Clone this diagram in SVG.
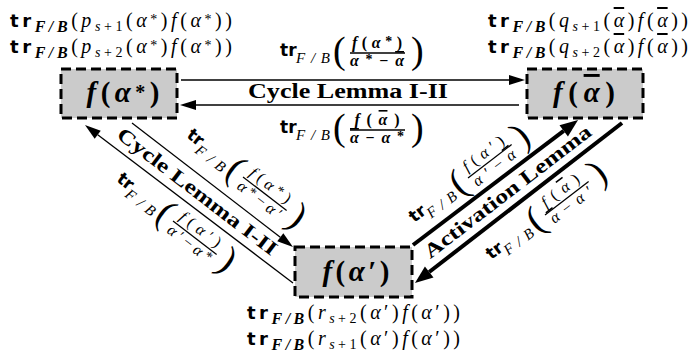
<svg xmlns="http://www.w3.org/2000/svg" width="691" height="352" viewBox="0 0 691 352">
<style>
text{font-family:"Liberation Serif",serif;fill:#000}
.tr{font-family:"DejaVu Sans",sans-serif;font-weight:bold}
.mi{font-style:italic}
.bi{font-style:italic;font-weight:bold}
.b{font-weight:bold}
.ov{text-decoration:overline}
.c{font-size:20px}
.sm{font-size:14px}
.node rect{fill:#cbcbcb;stroke:#000;stroke-width:3;stroke-dasharray:10 5}
.node text{font-size:29px;text-anchor:middle}
.lab{font-size:20px;font-weight:bold}
.thin{stroke:#000;stroke-width:1.3;fill:none}
.thick{stroke:#000;stroke-width:4;fill:none}
.bar{stroke:#000;stroke-width:1.3}
.bp{font-size:38px}
.fr{font-size:16px;text-anchor:middle}
</style>
<defs>
<marker id="ah" markerUnits="userSpaceOnUse" markerWidth="16" markerHeight="10" refX="0" refY="5" orient="auto" overflow="visible"><path d="M0,0 L16,5 L0,10 Z" fill="#000"/></marker>
<marker id="ahb" markerUnits="userSpaceOnUse" markerWidth="18" markerHeight="14" refX="0" refY="7" orient="auto" overflow="visible"><path d="M0,0 L18,7 L0,14 Z" fill="#000"/></marker>
</defs>

<g id="connectors">
<line class="thin" x1="181" y1="80" x2="509" y2="80" marker-end="url(#ah)"/>
<line class="thin" x1="519" y1="105" x2="196" y2="105" marker-end="url(#ah)"/>
<line class="thin" x1="132" y1="123" x2="280.3" y2="237.2" marker-end="url(#ah)"/>
<line class="thin" x1="293" y1="283" x2="97.7" y2="134.7" marker-end="url(#ah)"/>
<line class="thick" x1="413" y1="245" x2="563.7" y2="130.9" marker-end="url(#ahb)"/>
<line class="thick" x1="622" y1="123" x2="429.2" y2="272" marker-end="url(#ahb)"/>

<text class="lab" x="348" y="98" text-anchor="middle" textLength="200" lengthAdjust="spacingAndGlyphs">Cycle Lemma I-II</text>
<text class="lab" transform="translate(197,192) rotate(37.5)" x="0" y="6" text-anchor="middle" textLength="196" lengthAdjust="spacingAndGlyphs">Cycle Lemma I-II</text>
<text class="lab" transform="translate(508,192) rotate(-37.5)" x="0" y="6" text-anchor="middle" textLength="205" lengthAdjust="spacingAndGlyphs">Activation Lemma</text>

<!-- top horizontal label -->
<g transform="translate(350,53)">
<text class="tr" x="-70" y="3" font-size="17">tr</text>
<text class="mi" x="-54" y="10" font-size="15" textLength="34">F/B</text>
<text class="bp" x="-17" y="10">(</text>
<text class="fr b" x="27" y="-5" textLength="50"><tspan class="mi">f</tspan>(<tspan class="mi">α</tspan><tspan class="sm" baseline-shift="2">*</tspan>)</text>
<line class="bar" x1="0" y1="0" x2="55" y2="0"/>
<text class="fr b" x="27" y="13" textLength="54"><tspan class="mi">α</tspan><tspan class="sm" baseline-shift="2">*</tspan>−<tspan class="mi ov">α</tspan></text>
<text class="bp" x="61" y="10">)</text>
</g>
<!-- bottom horizontal label -->
<g transform="translate(350,130)">
<text class="tr" x="-70" y="3" font-size="17">tr</text>
<text class="mi" x="-54" y="10" font-size="15" textLength="34">F/B</text>
<text class="bp" x="-17" y="10">(</text>
<text class="fr b" x="27" y="-5" textLength="45"><tspan class="mi">f</tspan>(<tspan class="mi ov">α</tspan>)</text>
<line class="bar" x1="0" y1="0" x2="55" y2="0"/>
<text class="fr b" x="27" y="13" textLength="54"><tspan class="mi ov">α</tspan>−<tspan class="mi">α</tspan><tspan class="sm" baseline-shift="2">*</tspan></text>
<text class="bp" x="61" y="10">)</text>
</g>
<!-- left upper diagonal label -->
<g transform="translate(243,177) rotate(37.5)">
<text class="tr" x="-70" y="3" font-size="17">tr</text>
<text class="mi" x="-54" y="10" font-size="15" textLength="34">F/B</text>
<text class="bp" x="-17" y="10">(</text>
<text class="fr" x="27" y="-5" textLength="48"><tspan class="mi">f</tspan>(<tspan class="mi">α</tspan><tspan class="sm" baseline-shift="2">*</tspan>)</text>
<line class="bar" x1="0" y1="0" x2="55" y2="0"/>
<text class="fr" x="27" y="13" textLength="52"><tspan class="mi">α</tspan><tspan class="sm" baseline-shift="2">*</tspan>−<tspan class="mi">α</tspan>′</text>
<text class="bp" x="61" y="10">)</text>
</g>
<!-- left lower diagonal label -->
<g transform="translate(173,221) rotate(37.5)">
<text class="tr" x="-70" y="3" font-size="17">tr</text>
<text class="mi" x="-54" y="10" font-size="15" textLength="34">F/B</text>
<text class="bp" x="-17" y="10">(</text>
<text class="fr" x="27" y="-5" textLength="48"><tspan class="mi">f</tspan>(<tspan class="mi">α</tspan>′)</text>
<line class="bar" x1="0" y1="0" x2="55" y2="0"/>
<text class="fr" x="27" y="13" textLength="52"><tspan class="mi">α</tspan>′−<tspan class="mi">α</tspan><tspan class="sm" baseline-shift="2">*</tspan></text>
<text class="bp" x="61" y="10">)</text>
</g>
<!-- right upper diagonal label -->
<g transform="translate(468,178) rotate(-37.5)">
<text class="tr" x="-70" y="3" font-size="17">tr</text>
<text class="mi" x="-54" y="10" font-size="15" textLength="34">F/B</text>
<text class="bp" x="-17" y="10">(</text>
<text class="fr" x="27" y="-5" textLength="48"><tspan class="mi">f</tspan>(<tspan class="mi">α</tspan>′)</text>
<line class="bar" x1="0" y1="0" x2="55" y2="0"/>
<text class="fr" x="27" y="13" textLength="50"><tspan class="mi">α</tspan>′−<tspan class="mi ov">α</tspan></text>
<text class="bp" x="61" y="10">)</text>
</g>
<!-- right lower diagonal label -->
<g transform="translate(545,215) rotate(-37.5)">
<text class="tr" x="-70" y="3" font-size="17">tr</text>
<text class="mi" x="-54" y="10" font-size="15" textLength="34">F/B</text>
<text class="bp" x="-17" y="10">(</text>
<text class="fr" x="27" y="-5" textLength="44"><tspan class="mi">f</tspan>(<tspan class="mi ov">α</tspan>)</text>
<line class="bar" x1="0" y1="0" x2="55" y2="0"/>
<text class="fr" x="27" y="13" textLength="50"><tspan class="mi ov">α</tspan>−<tspan class="mi">α</tspan>′</text>
<text class="bp" x="61" y="10">)</text>
</g>
</g>

<g id="node-alpha-star" class="node">
<rect x="61" y="69" width="116" height="49"/>
<text x="123" y="102" class="b" textLength="73"><tspan class="bi">f</tspan>(<tspan class="bi">α</tspan><tspan font-size="20" baseline-shift="3">*</tspan>)</text>
</g>
<g id="node-alpha-bar" class="node">
<rect x="527" y="69" width="116" height="49"/>
<text x="584" y="102" class="b" textLength="62"><tspan class="bi">f</tspan>(<tspan class="bi ov">α</tspan>)</text>
</g>
<g id="node-alpha-prime" class="node">
<rect x="295" y="247" width="117" height="50"/>
<text x="356" y="281" class="b" textLength="67"><tspan class="bi">f</tspan>(<tspan class="bi">α</tspan>′)</text>
</g>

<g id="corner-labels">
<text class="c" x="10" y="27" textLength="222"><tspan class="tr" font-size="18">tr</tspan><tspan class="bi" font-size="16" baseline-shift="-5">F/B</tspan>(<tspan class="mi">p</tspan><tspan class="sm" baseline-shift="-4"><tspan class="mi">s</tspan>+1</tspan>(<tspan class="mi">α</tspan><tspan class="sm" baseline-shift="3">*</tspan>)<tspan class="mi">f</tspan>(<tspan class="mi">α</tspan><tspan class="sm" baseline-shift="3">*</tspan>))</text>
<text class="c" x="10" y="53" textLength="222"><tspan class="tr" font-size="18">tr</tspan><tspan class="bi" font-size="16" baseline-shift="-5">F/B</tspan>(<tspan class="mi">p</tspan><tspan class="sm" baseline-shift="-4"><tspan class="mi">s</tspan>+2</tspan>(<tspan class="mi">α</tspan><tspan class="sm" baseline-shift="3">*</tspan>)<tspan class="mi">f</tspan>(<tspan class="mi">α</tspan><tspan class="sm" baseline-shift="3">*</tspan>))</text>
<text class="c" x="488" y="27" textLength="200"><tspan class="tr" font-size="18">tr</tspan><tspan class="bi" font-size="16" baseline-shift="-5">F/B</tspan>(<tspan class="mi">q</tspan><tspan class="sm" baseline-shift="-4"><tspan class="mi">s</tspan>+1</tspan>(<tspan class="mi ov">α</tspan>)<tspan class="mi">f</tspan>(<tspan class="mi ov">α</tspan>))</text>
<text class="c" x="488" y="53" textLength="200"><tspan class="tr" font-size="18">tr</tspan><tspan class="bi" font-size="16" baseline-shift="-5">F/B</tspan>(<tspan class="mi">q</tspan><tspan class="sm" baseline-shift="-4"><tspan class="mi">s</tspan>+2</tspan>(<tspan class="mi ov">α</tspan>)<tspan class="mi">f</tspan>(<tspan class="mi ov">α</tspan>))</text>
<text class="c" x="247" y="319" textLength="213"><tspan class="tr" font-size="18">tr</tspan><tspan class="bi" font-size="16" baseline-shift="-5">F/B</tspan>(<tspan class="mi">r</tspan><tspan class="sm" baseline-shift="-4"><tspan class="mi">s</tspan>+2</tspan>(<tspan class="mi">α</tspan>′)<tspan class="mi">f</tspan>(<tspan class="mi">α</tspan>′))</text>
<text class="c" x="247" y="345" textLength="213"><tspan class="tr" font-size="18">tr</tspan><tspan class="bi" font-size="16" baseline-shift="-5">F/B</tspan>(<tspan class="mi">r</tspan><tspan class="sm" baseline-shift="-4"><tspan class="mi">s</tspan>+1</tspan>(<tspan class="mi">α</tspan>′)<tspan class="mi">f</tspan>(<tspan class="mi">α</tspan>′))</text>
</g>
</svg>
